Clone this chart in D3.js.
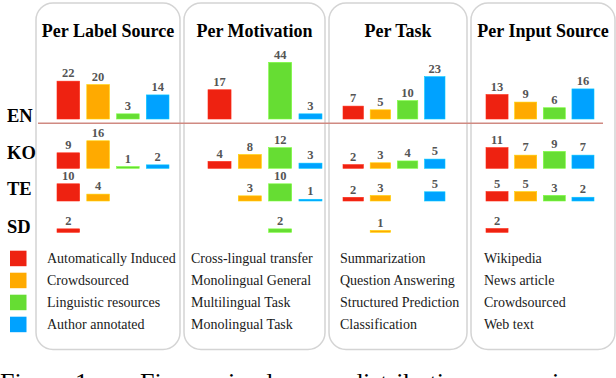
<!DOCTYPE html>
<html>
<head>
<meta charset="utf-8">
<script src="https://cdn.jsdelivr.net/npm/d3@7"></script>
<style>
  html,body{margin:0;padding:0;background:#fff;}
</style>
</head>
<body>
<div id="chart"></div>
<script>
const panelTitles = ['Per Label Source','Per Motivation','Per Task','Per Input Source'];
const langs = ['EN','KO','TE','SD'];
const colors = ['#ee2211','#ffaa00','#66dd33','#00a2ff'];

// rows = EN, KO, TE, SD ; columns = the four colour categories (null = no bar)
const labelSourceVals = [[22,20,3,14],[9,16,1,2],[10,4,null,null],[2,null,null,null]];
const motivationVals  = [[17,null,44,3],[4,8,12,3],[null,3,10,1],[null,null,2,null]];
const taskVals        = [[7,5,10,23],[2,3,4,5],[2,3,null,5],[null,1,null,null]];
const inputVals       = [[13,9,6,16],[11,7,9,7],[5,5,3,2],[2,null,null,null]];

const labelSourceNames = ['Automatically Induced','Crowdsourced','Linguistic resources','Author annotated'];
const motivationNames  = ['Cross-lingual transfer','Monolingual General','Multilingual Task','Monolingual Task'];
const taskNames        = ['Summarization','Question Answering','Structured Prediction','Classification'];
const inputNames       = ['Wikipedia','News article','Crowdsourced','Web text'];

const captionWords = ['Figure','1:','Fine-grained','distribution','comparison','of'];

const W=616, H=378;
const FONT = "'Liberation Serif'";
const svg = d3.select('#chart').append('svg').attr('width',W).attr('height',H);

// layout of each panel: box edges, bar band range, height scale (tall bars squeezed like the source)
const panels = [
  {box:[36,180], bars:[57,169], pad:.24, hy:[0,43,86], vals:labelSourceVals, names:labelSourceNames, tx:47},
  {box:[184,325], bars:[208,322], pad:.24, hy:[0,43,61], vals:motivationVals, names:motivationNames, tx:191},
  {box:[329,467], bars:[343,445], pad:.25, hy:[0,46,92], vals:taskVals, names:taskNames, tx:340},
  {box:[471,615], bars:[486,594], pad:.23, hy:[0,47,94], vals:inputVals, names:inputNames, tx:484}
];
const rowBase = d3.scaleOrdinal().domain(langs).range([119,168.3,201,232.3]);
const rowLabelY = d3.scaleOrdinal().domain(langs).range([121.5,158.5,195,233]);
const legY = d3.scalePoint().domain(d3.range(4)).range([263.3,329.3]);

// panel frames
svg.selectAll('rect.frame').data(panels).join('rect')
  .attr('class','frame')
  .attr('x',d=>d.box[0]).attr('y',3)
  .attr('width',d=>d.box[1]-d.box[0]).attr('height',346.5)
  .attr('rx',17).attr('ry',17)
  .attr('fill','none').attr('stroke','#d4d4d4').attr('stroke-width',1.5);

svg.selectAll('text.title').data(panels).join('text')
  .attr('class','title')
  .attr('x',d=>(d.box[0]+d.box[1])/2).attr('y',37.3)
  .attr('text-anchor','middle')
  .style('font-family',FONT)
  .attr('font-size',18).attr('font-weight','bold').attr('fill','#000')
  .text((d,i)=>panelTitles[i]);

// EN separator
svg.append('line')
  .attr('x1',38).attr('x2',603).attr('y1',123.3).attr('y2',123.3)
  .attr('stroke','#d08a82').attr('stroke-width',1.5);

// row labels
svg.selectAll('text.lang').data(langs).join('text')
  .attr('class','lang')
  .attr('x',7).attr('y',d=>rowLabelY(d))
  .style('font-family',FONT)
  .attr('font-size',18.5).attr('font-weight','bold').attr('fill','#000')
  .text(d=>d);

panels.forEach((p,pi)=>{
  const x = d3.scaleBand().domain(d3.range(4)).range(p.bars).paddingInner(p.pad);
  const h = d3.scaleLinear().domain([0,25,50]).range(p.hy);
  const g = svg.append('g');

  const cells = [];
  p.vals.forEach((row,ri)=>row.forEach((v,ci)=>{
    if(v!=null) cells.push({lang:langs[ri], c:ci, v});
  }));

  g.selectAll('rect').data(cells).join('rect')
    .attr('x',d=>x(d.c)).attr('width',x.bandwidth())
    .attr('y',d=>rowBase(d.lang)-h(d.v)).attr('height',d=>h(d.v))
    .attr('fill',d=>colors[d.c])
    .attr('stroke',d=>d3.color(colors[d.c]).brighter(0.6)).attr('stroke-width',0.6);

  g.selectAll('text.val').data(cells).join('text')
    .attr('class','val')
    .attr('x',d=>x(d.c)+x.bandwidth()/2)
    .attr('y',d=>rowBase(d.lang)-h(d.v)-3.8)
    .attr('text-anchor','middle')
    .style('font-family',FONT)
    .attr('font-size',12.5).attr('font-weight','bold').attr('fill','#555')
    .text(d=>d.v);

  g.selectAll('text.leg').data(p.names).join('text')
    .attr('class','leg')
    .attr('x',p.tx).attr('y',(d,i)=>legY(i))
    .style('font-family',FONT)
    .attr('font-size',14).attr('fill','#1a1a1a')
    .text(d=>d);
});

// legend swatches
svg.selectAll('rect.sw').data(colors).join('rect')
  .attr('class','sw')
  .attr('x',10).attr('y',(d,i)=>legY(i)-12.6)
  .attr('width',16.5).attr('height',15.5)
  .attr('fill',d=>d);

// caption (only its top shows at the bottom edge)
const capX = [0,75,140,350,474,602];
svg.append('text')
  .attr('y',391).attr('font-size',26).attr('fill','#000')
  .style('font-family',FONT)
  .selectAll('tspan').data(captionWords).join('tspan')
  .attr('x',(d,i)=>capX[i]).text(d=>d);
</script>
</body>
</html>
